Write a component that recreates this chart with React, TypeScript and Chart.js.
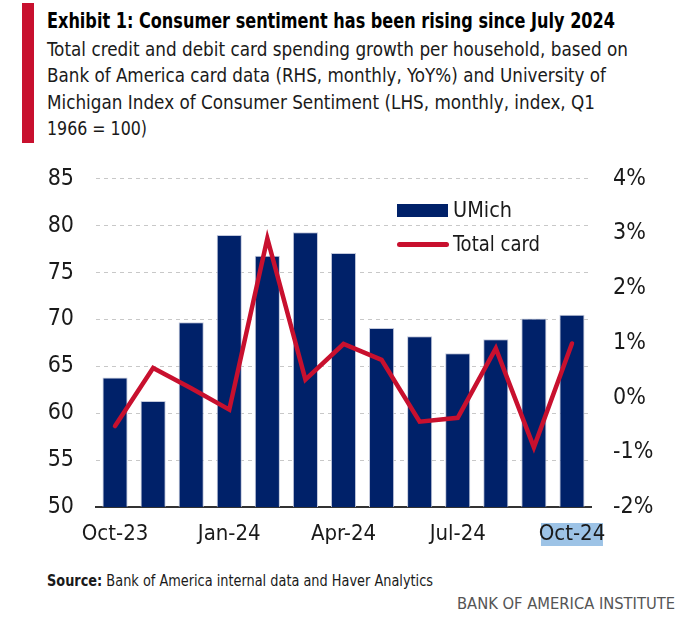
import React, { useEffect, useLayoutEffect, useRef } from 'react';
import { Chart, registerables } from 'chart.js';

Chart.register(...registerables);

const months = ['Oct-23', 'Nov-23', 'Dec-23', 'Jan-24', 'Feb-24', 'Mar-24', 'Apr-24', 'May-24', 'Jun-24', 'Jul-24', 'Aug-24', 'Sep-24', 'Oct-24'];
const umich = [63.8, 61.3, 69.7, 79.0, 76.8, 79.3, 77.1, 69.1, 68.2, 66.4, 67.9, 70.1, 70.5];
const totalCard = [-0.52, 0.54, 0.17, -0.22, 2.91, 0.33, 0.98, 0.69, -0.44, -0.37, 0.9, -0.91, 0.99];
const shownXLabels = ['Oct-23', 'Jan-24', 'Apr-24', 'Jul-24', 'Oct-24'];
const highlightedLabel = 'Oct-24';
const leftAxis = { min: 50, max: 85, step: 5 };
const rightAxis = { min: -2, max: 4, step: 1 };

const NAVY = '#002169';
const RED = '#C8102E';
const FONT = "'DejaVu Sans Condensed', 'Liberation Sans', sans-serif";

const highlightPlugin = {
  id: 'labelHighlight',
  beforeDraw(chart: any) {
    const xs = chart.scales.x;
    const idx = months.indexOf(highlightedLabel);
    if (idx < 0) return;
    const cx = xs.getPixelForValue(idx);
    const ctx = chart.ctx;
    const top = chart.chartArea.bottom + 16;
    ctx.save();
    ctx.fillStyle = '#9DC3E6';
    ctx.fillRect(cx - 31, top, 62, 23);
    ctx.restore();
  },
};

function FitText({ width, style, children }: { width: number; style?: any; children: any }) {
  const ref = useRef<HTMLSpanElement | null>(null);
  useLayoutEffect(() => {
    const el = ref.current;
    if (!el) return;
    el.style.transform = 'none';
    const w = el.getBoundingClientRect().width;
    if (w > 0) el.style.transform = `scaleX(${width / w})`;
  }, [width]);
  return (
    <span
      ref={ref}
      style={{ display: 'inline-block', whiteSpace: 'nowrap', transformOrigin: 'left top', ...style }}
    >
      {children}
    </span>
  );
}

function ChartCanvas() {
  const ref = useRef<HTMLCanvasElement | null>(null);
  useEffect(() => {
    if (!ref.current) return;
    const tickFont = { family: FONT, size: 23 };
    const chart = new Chart(ref.current, {
      type: 'bar',
      data: {
        labels: months,
        datasets: [
          {
            type: 'line',
            label: 'Total card',
            data: totalCard,
            yAxisID: 'y1',
            borderColor: RED,
            backgroundColor: RED,
            borderWidth: 4.5,
            pointRadius: 0,
            tension: 0,
            borderCapStyle: 'round',
            borderJoinStyle: 'miter',
            order: 0,
          } as any,
          {
            type: 'bar',
            label: 'UMich',
            data: umich,
            yAxisID: 'y',
            backgroundColor: NAVY,
            borderColor: '#c3c9dc',
            borderWidth: 1,
            barPercentage: 0.66,
            categoryPercentage: 1,
            order: 1,
          } as any,
        ],
      },
      options: {
        responsive: false,
        animation: false,
        layout: { padding: { top: 0, left: 0, right: 0, bottom: 0 } },
        plugins: {
          legend: { display: false },
          tooltip: { enabled: false },
        },
        scales: {
          x: {
            grid: { display: false, drawTicks: false },
            border: { display: true, color: '#333333', width: 2 },
            ticks: {
              autoSkip: false,
              maxRotation: 0,
              padding: 14,
              color: '#1a1a1a',
              font: { family: FONT, size: 22 },
              callback: (_v: any, i: number) => (shownXLabels.includes(months[i]) ? months[i] : ''),
            },
            afterFit: (s: any) => {
              s.height = 50;
            },
          },
          y: {
            position: 'left',
            min: leftAxis.min,
            max: leftAxis.max,
            grid: { color: '#c8c8c8', lineWidth: 1, drawTicks: false },
            border: { display: false, dash: [4, 4] },
            ticks: { stepSize: leftAxis.step, padding: 22, color: '#1a1a1a', font: tickFont },
            afterFit: (s: any) => {
              s.width = 96;
            },
          },
          y1: {
            position: 'right',
            min: rightAxis.min,
            max: rightAxis.max,
            grid: { display: false, drawTicks: false },
            border: { display: false },
            ticks: {
              stepSize: rightAxis.step,
              padding: 22,
              color: '#1a1a1a',
              font: tickFont,
              callback: (v: any) => `${v}%`,
            },
            afterFit: (s: any) => {
              s.width = 91;
            },
          },
        },
      },
      plugins: [highlightPlugin],
    } as any);
    return () => chart.destroy();
  }, []);
  return <canvas ref={ref} width={682} height={414} style={{ display: 'block', width: 682, height: 414 }} />;
}

export default function App() {
  const subLines: [string, number][] = [
    ['Total credit and debit card spending growth per household, based on', 581],
    ['Bank of America card data (RHS, monthly, YoY%) and University of', 559],
    ['Michigan Index of Consumer Sentiment (LHS, monthly, index, Q1', 548],
    ['1966 = 100)', 100],
  ];
  return (
    <div
      style={{
        position: 'absolute',
        left: 0,
        top: 0,
        width: 682,
        height: 621,
        background: '#ffffff',
        fontFamily: FONT,
        color: '#111111',
        overflow: 'hidden',
      }}
    >
      <div style={{ position: 'absolute', left: 22, top: 3, width: 12, height: 140, background: RED }} />
      <div style={{ position: 'absolute', left: 47, top: 11, fontSize: 20.5, lineHeight: '21px', fontWeight: 700, color: '#000' }}>
        <FitText width={568}>Exhibit 1: Consumer sentiment has been rising since July 2024</FitText>
      </div>
      <div style={{ position: 'absolute', left: 47, top: 36.5, fontSize: 19.5, lineHeight: '26.5px', color: '#1a1a1a' }}>
        {subLines.map(([l, w]) => (
          <div key={l} style={{ whiteSpace: 'nowrap', height: 26.5 }}>
            <FitText width={w}>{l}</FitText>
          </div>
        ))}
      </div>
      <div style={{ position: 'absolute', left: 0, top: 143 }}>
        <ChartCanvas />
      </div>
      {/* Legend */}
      <div style={{ position: 'absolute', left: 397, top: 204, width: 51, height: 13, background: NAVY }} />
      <div style={{ position: 'absolute', left: 453, top: 198, fontSize: 22, lineHeight: '23px', color: '#1a1a1a' }}>
        <FitText width={59}>UMich</FitText>
      </div>
      <div style={{ position: 'absolute', left: 397, top: 242, width: 52, height: 4.5, borderRadius: 2.5, background: RED }} />
      <div style={{ position: 'absolute', left: 453, top: 232, fontSize: 22, lineHeight: '23px', color: '#1a1a1a' }}>
        <FitText width={87}>Total card</FitText>
      </div>
      <div style={{ position: 'absolute', left: 47, top: 572, fontSize: 16.5, lineHeight: '17px', color: '#1a1a1a' }}>
        <FitText width={386}>
          <span style={{ fontWeight: 700 }}>Source:</span> Bank of America internal data and Haver Analytics
        </FitText>
      </div>
      <div style={{ position: 'absolute', left: 457, top: 595, fontSize: 16.5, lineHeight: '17px', color: '#555555' }}>
        <FitText width={218}>BANK OF AMERICA INSTITUTE</FitText>
      </div>
    </div>
  );
}
